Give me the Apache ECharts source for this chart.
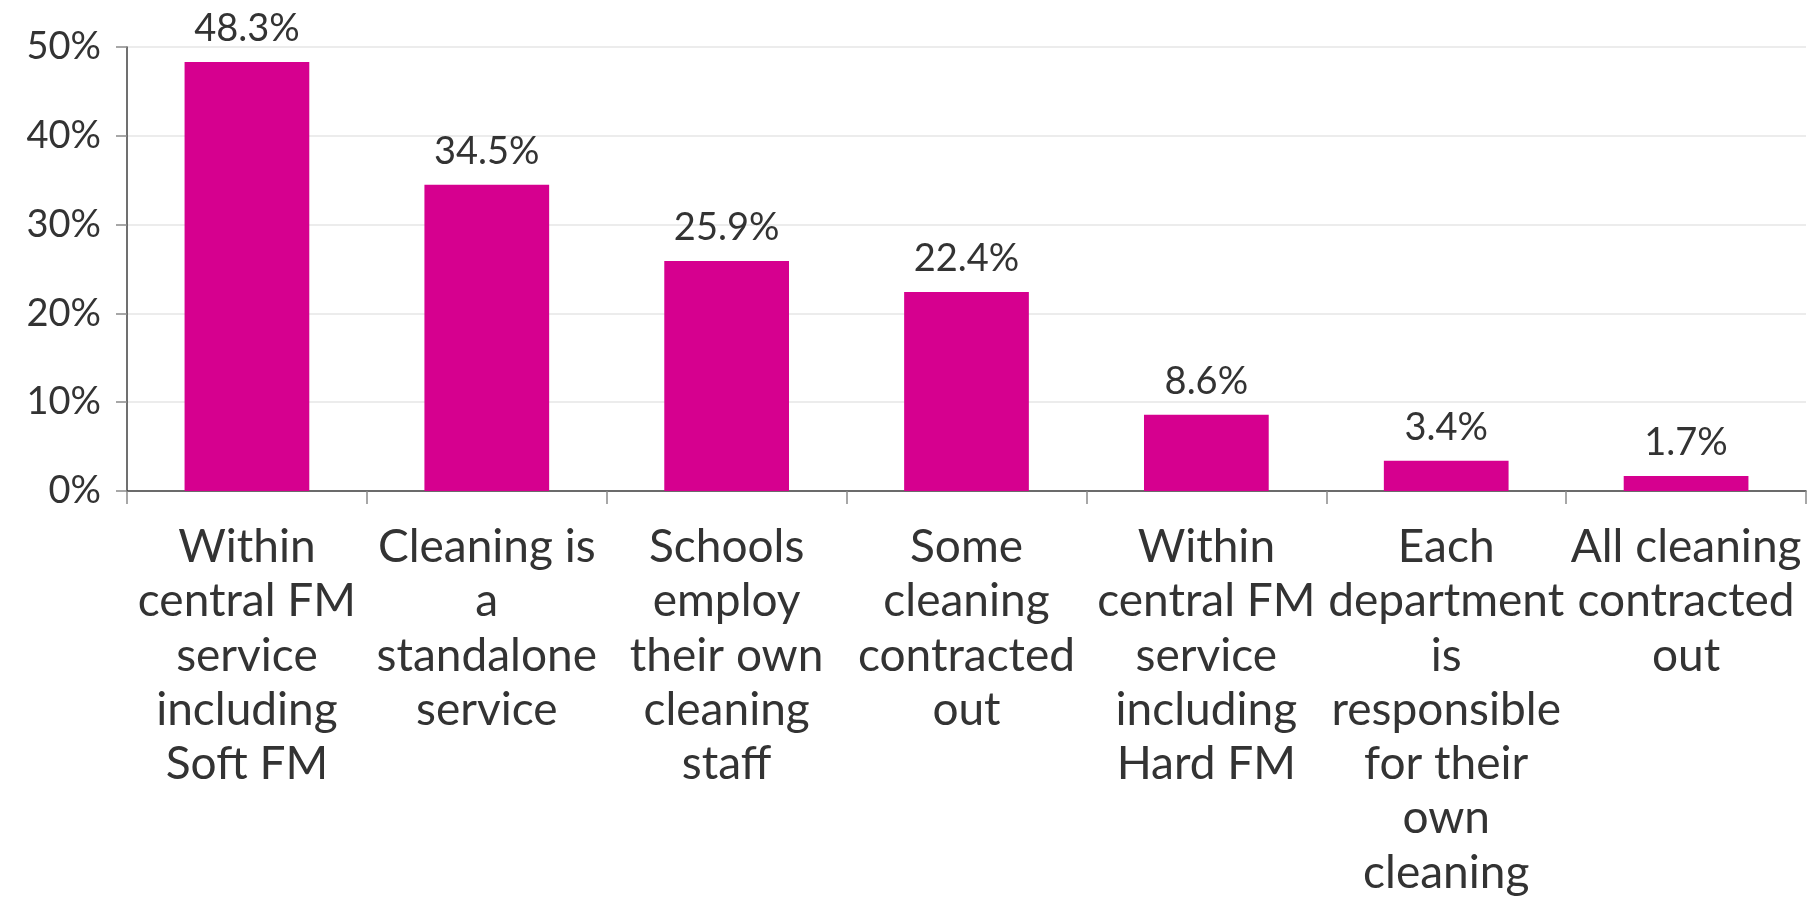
<!DOCTYPE html>
<html>
<head>
<meta charset="utf-8">
<style>
  html, body { margin: 0; padding: 0; background: #ffffff; }
  #chart { width: 1813px; height: 897px; }
</style>
<script src="https://cdn.jsdelivr.net/npm/echarts@6/dist/echarts.min.js"></script>
</head>
<body>
<div id="chart"></div>
<script>
// How cleaning services are organised (share of respondents)
const categories = [
  "Within\ncentral FM\nservice\nincluding\nSoft FM",
  "Cleaning is\na\nstandalone\nservice",
  "Schools\nemploy\ntheir own\ncleaning\nstaff",
  "Some\ncleaning\ncontracted\nout",
  "Within\ncentral FM\nservice\nincluding\nHard FM",
  "Each\ndepartment\nis\nresponsible\nfor their\nown\ncleaning",
  "All cleaning\ncontracted\nout"
];
const shares = [48.3, 34.5, 25.9, 22.4, 8.6, 3.4, 1.7];
const yTicks = [0, 10, 20, 30, 40, 50];

const textColor = "#333333";
const font = "Lato";

const chart = echarts.init(document.getElementById("chart"));
chart.setOption({
  animation: false,
  grid: {
    left: 127, right: 7, top: 47, bottom: 406,
    containLabel: false,
    outerBoundsMode: "none"
  },
  xAxis: {
    type: "category",
    data: categories,
    boundaryGap: true,
    axisLine: { show: true, lineStyle: { color: "#404040", width: 1.5 } },
    axisTick: { show: true, length: 13, lineStyle: { color: "#8a8a8a", width: 1.5 } },
    axisLabel: {
      interval: 0,
      margin: 29,
      color: textColor,
      fontFamily: font,
      fontSize: 46,
      lineHeight: 54.3,
      align: "center"
    }
  },
  yAxis: {
    type: "value",
    min: yTicks[0],
    max: yTicks[yTicks.length - 1],
    interval: 10,
    axisLine: { show: true, lineStyle: { color: "#404040", width: 1.5 } },
    axisTick: { show: true, length: 11, lineStyle: { color: "#8a8a8a", width: 1.5 } },
    splitLine: { show: true, lineStyle: { color: "#e6e6e6", width: 1.5 } },
    axisLabel: {
      margin: 26,
      color: textColor,
      fontFamily: font,
      fontSize: 38,
      formatter: v => v + "%"
    }
  },
  series: [{
    type: "bar",
    data: shares,
    barWidth: "52%",
    itemStyle: { color: "#D6008F" },
    label: {
      show: true,
      position: "top",
      distance: 14,
      color: textColor,
      fontFamily: font,
      fontSize: 38,
      formatter: p => p.value.toFixed(1) + "%"
    }
  }]
});
</script>
</body>
</html>
